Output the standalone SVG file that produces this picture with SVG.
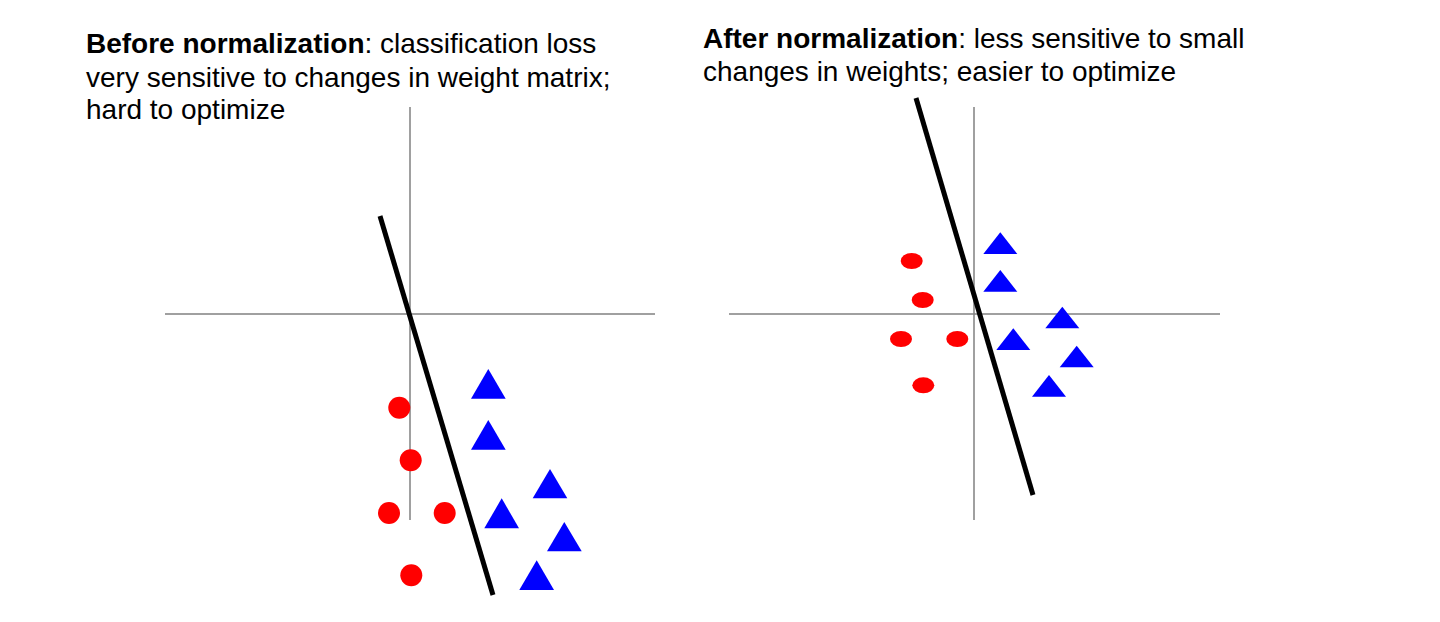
<svg xmlns="http://www.w3.org/2000/svg" width="1440" height="622" viewBox="0 0 1440 622">
<style>
.t{font-family:"Liberation Sans",Arial,sans-serif;font-size:28px;fill:#000}
.b{font-weight:bold}
.ax{stroke:#808080;stroke-width:1.5;fill:none}
.bd{stroke:#000;stroke-width:5;fill:none}
.c{fill:#ff0000}
.tr{fill:#0000ff}
</style>
<rect width="1440" height="622" fill="#fff"/>
<g id="left-title">
<text class="t" x="86" y="53"><tspan class="b">Before normalization</tspan>: classification loss</text>
<text class="t" x="86" y="86.5">very sensitive to changes in weight matrix;</text>
<text class="t" x="86" y="119">hard to optimize</text>
</g>
<g id="right-title">
<text class="t" x="703" y="48"><tspan class="b">After normalization</tspan>: less sensitive to small</text>
<text class="t" x="703" y="81">changes in weights; easier to optimize</text>
</g>
<g id="connectors">
<line class="ax" x1="165" y1="314" x2="655" y2="314"/>
<line class="ax" x1="410" y1="107" x2="410" y2="520"/>
<line class="bd" x1="380" y1="216" x2="493" y2="595"/>
<line class="ax" x1="729" y1="314" x2="1220" y2="314"/>
<line class="ax" x1="974" y1="107" x2="974" y2="520"/>
<line class="bd" x1="916" y1="98" x2="1033" y2="495"/>
</g>
<g id="left-points">
<circle class="c" cx="399.3" cy="407.7" r="11"/>
<circle class="c" cx="410.7" cy="460.3" r="11"/>
<circle class="c" cx="389" cy="513" r="11"/>
<circle class="c" cx="444.7" cy="513" r="11"/>
<circle class="c" cx="411.3" cy="575.3" r="11"/>
<polygon class="tr" points="488.3,369 505.7,398.7 471,398.7"/>
<polygon class="tr" points="488.3,420 505.7,449.7 471,449.7"/>
<polygon class="tr" points="550,469 567.3,498.3 532.7,498.3"/>
<polygon class="tr" points="501.7,498.3 519,528.3 484.3,528.3"/>
<polygon class="tr" points="564.3,522 581.7,551.3 547,551.3"/>
<polygon class="tr" points="536.7,560.3 554,590 519.3,590"/>
</g>
<g id="right-points">
<ellipse class="c" cx="911.7" cy="261" rx="11" ry="8"/>
<ellipse class="c" cx="922.7" cy="300" rx="11" ry="8"/>
<ellipse class="c" cx="901" cy="339" rx="11" ry="8"/>
<ellipse class="c" cx="957.3" cy="339" rx="11" ry="8"/>
<ellipse class="c" cx="923.3" cy="385.3" rx="11" ry="8"/>
<polygon class="tr" points="1000.3,232.3 1017.3,254 983.3,254"/>
<polygon class="tr" points="1000.3,270 1017.3,291.7 983.3,291.7"/>
<polygon class="tr" points="1062.3,306.7 1079.3,328.3 1045.3,328.3"/>
<polygon class="tr" points="1013.3,328.3 1030.3,350 996.3,350"/>
<polygon class="tr" points="1076.7,345.7 1093.7,367.3 1059.7,367.3"/>
<polygon class="tr" points="1049,375 1066,396.7 1032,396.7"/>
</g>
</svg>
